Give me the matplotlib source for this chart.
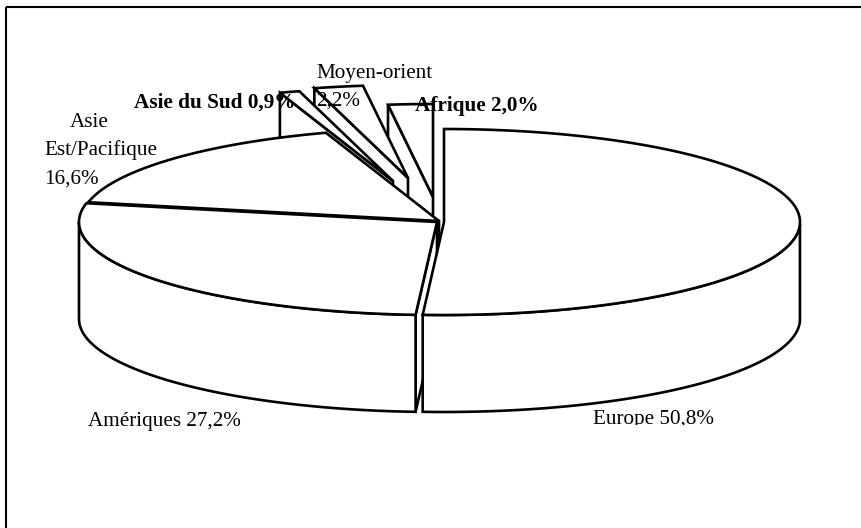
import numpy as np
import matplotlib
matplotlib.use("Agg")
import matplotlib.pyplot as plt
from matplotlib.patches import Polygon, Rectangle

# Share of each region, clockwise from twelve o'clock
regions = ["Europe", "Amériques", "Asie Est/Pacifique", "Asie du Sud", "Moyen-orient", "Afrique"]
shares = [50.8, 27.2, 16.6, 0.9, 2.2, 2.0]

# Pixel layout of the exploded disc: apex of every slice and half-axes
apex_x = [444, 437, 439, 393, 408, 433]
apex_y = [222, 222, 221, 181, 178, 197]
radius_x = [356, 358, 358, 358, 358, 358]
RADIUS_Y = 93
THICKNESS = 97
LINE = 1.9

fig = plt.figure(figsize=(8.61, 5.28), dpi=100, facecolor="white")
ax = fig.add_axes([0, 0, 1, 1])
ax.set_xlim(0, 861)
ax.set_ylim(528, 0)
ax.axis("off")

# Chart frame: only the left and top rules are present
ax.plot([6, 6], [528, 7], color="black", lw=1.5, solid_capstyle="butt", zorder=1)
ax.plot([6, 861], [7, 7], color="black", lw=1.5, solid_capstyle="butt", zorder=1)

fractions = np.array(shares) / sum(shares)
edges = np.concatenate([[0], np.cumsum(fractions)]) * 2 * np.pi


def rim(i, angles):
    return (apex_x[i] + radius_x[i] * np.sin(angles),
            apex_y[i] - RADIUS_Y * np.cos(angles))


def draw_slice(i, z):
    start, stop = edges[i], edges[i + 1]
    t = np.linspace(start, stop, 160)
    x, y = rim(i, t)
    cx, cy = apex_x[i], apex_y[i]
    poly = dict(facecolor="white", edgecolor="black", lw=LINE, joinstyle="miter", zorder=z)

    # Cut faces, kept only when they turn towards the viewer
    if np.sin(start) < -1e-9:
        ax.add_patch(Polygon([(cx, cy), (x[0], y[0]), (x[0], y[0] + THICKNESS), (cx, cy + THICKNESS)], **poly))
    if np.sin(stop) > 1e-9:
        ax.add_patch(Polygon([(cx, cy), (x[-1], y[-1]), (x[-1], y[-1] + THICKNESS), (cx, cy + THICKNESS)], **poly))

    # Outer wall, for the part of the rim facing the viewer
    front = t[(t > np.pi / 2) & (t < 3 * np.pi / 2)]
    if front.size:
        fx, fy = rim(i, front)
        ax.add_patch(Polygon(np.r_[np.c_[fx, fy], np.c_[fx, fy + THICKNESS][::-1]], **poly))

    # Top face
    ax.add_patch(Polygon(np.r_[[(cx, cy)], np.c_[x, y]], **poly))


# Back slices first so that the nearer ones cover them
for z, i in enumerate([5, 4, 3, 2, 1, 0]):
    draw_slice(i, 2 + z)

serif = "Liberation Serif"
normal = dict(family=serif, fontsize=15.2, color="black", zorder=20, ha="left", va="baseline")
bold = dict(normal, fontsize=15.3, fontweight="bold")

ax.text(89, 127, "Asie", **dict(normal, ha="center"))
ax.text(44, 155, "Est/Pacifique", **normal)
ax.text(44, 184, "16,6%", **normal)
ax.text(316, 78, "Moyen-orient", **normal)
ax.text(316, 106, "2,2%", **normal)
ax.text(134, 108, "Asie du Sud 0,9%", **bold)
ax.text(415, 111, "Afrique 2,0%", **bold)
ax.text(88, 426, "Amériques 27,2%", **normal)
label = ax.text(593, 424, "Europe 50,8%", **normal)
# The last label is cut off by the lower edge of the plot area
label.set_clip_path(Rectangle((0, 0), 861, 425, transform=ax.transData))
label.set_clip_on(True)

fig.savefig("out.png", dpi=100, facecolor="white")
